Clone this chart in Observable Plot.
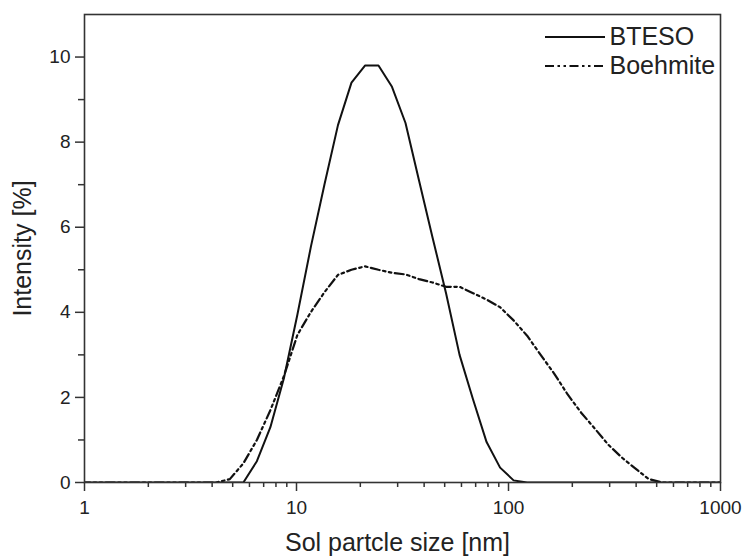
<!DOCTYPE html>
<html>
<head>
<meta charset="utf-8">
<script src="https://cdn.jsdelivr.net/npm/d3@7"></script>
<script src="https://cdn.jsdelivr.net/npm/@observablehq/plot@0.6"></script>
<style>
  html, body { margin: 0; padding: 0; background: white; }
  #chart { width: 744px; height: 558px; }
</style>
</head>
<body>
<div id="chart"></div>
<script>
// Particle size bins (nm)
const sizes = [0.965,1.117,1.294,1.499,1.736,2.010,2.328,2.696,3.122,3.615,4.187,4.848,5.615,6.503,7.531,8.721,10.10,11.70,13.54,15.69,18.17,21.04,24.36,28.21,32.67,37.84,43.82,50.75,58.77,68.06,78.82,91.28,105.7,122.4,141.8,164.2,190.1,220.2,255.0,295.3,342.0,396.1,458.7,531.2,615.1,712.4,825.0,955.4,1106];
// Intensity (%)
const btesoValues = [0,0,0,0,0,0,0,0,0,0,0,0,0,0.5,1.3,2.45,3.95,5.55,7.0,8.4,9.4,9.8,9.8,9.3,8.45,7.1,5.76,4.45,3.0,1.95,0.95,0.35,0.05,0,0,0,0,0,0,0,0,0,0,0,0,0,0,0,0];
const boehmiteValues = [0,0,0,0,0,0,0,0,0,0,0,0.08,0.45,1.0,1.7,2.5,3.47,4.01,4.47,4.88,5.0,5.08,5.0,4.93,4.89,4.78,4.7,4.6,4.6,4.45,4.3,4.12,3.81,3.45,3.0,2.56,2.07,1.64,1.27,0.89,0.59,0.33,0.08,0,0,0,0,0,0];
const seriesNames = ["BTESO", "Boehmite"];
const xMajorTicks = [1, 10, 100, 1000];
const xMinorTicks = [2,3,4,5,6,7,8,9,20,30,40,50,60,70,80,90,200,300,400,500,600,700,800,900];
const yMajorTicks = [0, 2, 4, 6, 8, 10];
const yMinorTicks = [1, 3, 5, 7, 9];
const xLabel = "Sol partcle size [nm]";
const yLabel = "Intensity [%]";

const bteso = sizes.map((s, i) => ({size: s, value: btesoValues[i]}));
const boehmite = sizes.map((s, i) => ({size: s, value: boehmiteValues[i]}));

const dashPattern = "9,3.5,2.5,3.5,2.5,3.5";
const ink = "#222";

const svg = Plot.plot({
  width: 744,
  height: 558,
  marginLeft: 84,
  marginRight: 24,
  marginTop: 14,
  marginBottom: 76,
  style: {fontFamily: "'Liberation Sans', Arial, sans-serif", color: ink, background: "white", overflow: "visible"},
  x: {type: "log", domain: [1, 1000]},
  y: {domain: [0, 11]},
  marks: [
    Plot.line(bteso, {x: "size", y: "value", stroke: "#111", strokeWidth: 2, clip: true}),
    Plot.line(boehmite, {x: "size", y: "value", stroke: "#111", strokeWidth: 2.2, strokeDasharray: dashPattern, clip: true}),
    Plot.axisX(xMajorTicks, {tickSize: 9, tickPadding: 9, tickFormat: d => String(d), fontSize: 19, label: null, stroke: "#333", strokeWidth: 1.5}),
    Plot.axisX(xMinorTicks, {tickSize: 5, tickFormat: () => "", label: null, stroke: "#333", strokeWidth: 1.5}),
    Plot.axisY(yMajorTicks, {tickSize: 9, tickPadding: 5, fontSize: 19, label: null, stroke: "#333", strokeWidth: 1.5}),
    Plot.axisY(yMinorTicks, {tickSize: 6, tickFormat: () => "", label: null, stroke: "#333", strokeWidth: 1.5}),
    Plot.frame({stroke: "#333", strokeWidth: 1.6}),
    Plot.text([xLabel], {frameAnchor: "bottom", dx: -5, dy: 60, textAnchor: "middle", lineAnchor: "middle", fontSize: 25, fill: ink}),
    Plot.text([yLabel], {frameAnchor: "left", dx: -62, rotate: -90, textAnchor: "middle", lineAnchor: "middle", fontSize: 25, fill: ink}),
    Plot.text([seriesNames[0]], {frameAnchor: "top-right", dx: -111, dy: 22, textAnchor: "start", lineAnchor: "middle", fontSize: 25, fill: ink}),
    Plot.text([seriesNames[1]], {frameAnchor: "top-right", dx: -111, dy: 51, textAnchor: "start", lineAnchor: "middle", fontSize: 25, fill: ink})
  ]
});

// legend line samples
const g = d3.select(svg).append("g").attr("stroke", "#111").attr("stroke-width", 2);
g.append("line").attr("x1", 545).attr("x2", 605).attr("y1", 37).attr("y2", 37);
g.append("line").attr("x1", 545).attr("x2", 603).attr("y1", 66).attr("y2", 66).attr("stroke-dasharray", dashPattern);

document.getElementById("chart").appendChild(svg);
</script>
</body>
</html>
